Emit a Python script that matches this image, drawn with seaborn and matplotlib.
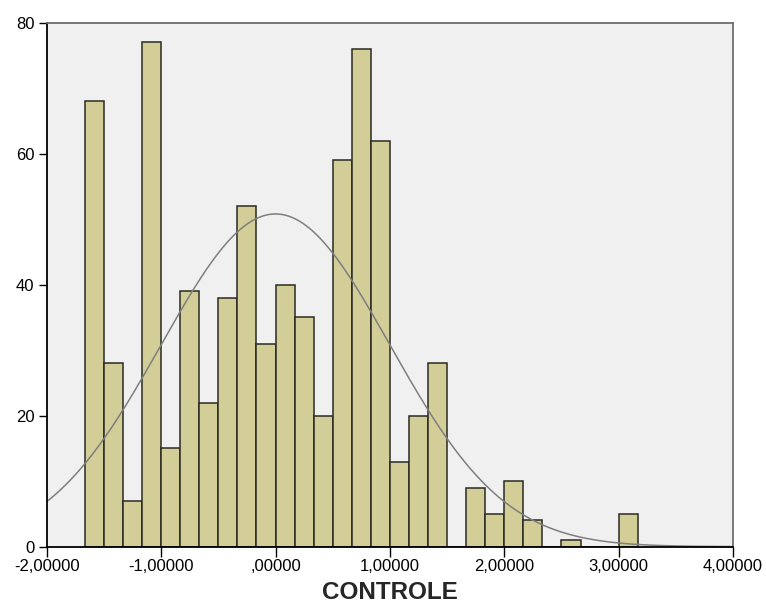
import numpy as np
import pandas as pd

import matplotlib
matplotlib.use('Agg')
import matplotlib.pyplot as plt
from matplotlib.ticker import FuncFormatter
import seaborn as sns

# Histogram of CONTROLE (standardized).
bin_left = -5 / 3
bin_width = 1 / 6
counts = [68, 28, 7, 77, 15, 39, 22, 38, 52, 31,
          40, 35, 20, 59, 76, 62, 13, 20, 28, 0,
          9, 5, 10, 4, 0, 1, 0, 0, 5]
# normal curve parameters (z-scores)
mean_z = 0.0
sd_z = 1.0

x_ticks = [-2, -1, 0, 1, 2, 3, 4]
y_ticks = [0, 20, 40, 60, 80]
x_label = 'CONTROLE'

edges = bin_left + bin_width * np.arange(len(counts) + 1)
centers = (edges[:-1] + edges[1:]) / 2
df = pd.DataFrame({'x': centers, 'n': counts})
n_total = sum(counts)

sns.set_style('white')
plt.rcParams['font.family'] = ['Liberation Sans', 'DejaVu Sans']

fig, ax = plt.subplots(figsize=(7.66, 6.05), dpi=100)
fig.subplots_adjust(left=0.061, right=0.957, top=0.9625, bottom=0.0964)
ax.set_facecolor('#f0f0f0')

sns.histplot(data=df, x='x', weights='n', bins=[float(e) for e in edges], ax=ax,
             color='#d3ce97', alpha=1, edgecolor='#2a2a22', linewidth=1.1)

grid = np.linspace(-2, 4, 400)
curve = n_total * bin_width * np.exp(-0.5 * ((grid - mean_z) / sd_z) ** 2) / (sd_z * np.sqrt(2 * np.pi))
sns.lineplot(x=grid, y=curve, ax=ax, color='#7f7f7f', linewidth=1.1)

ax.set_xlim(-2, 4)
ax.set_ylim(0, 80)
ax.set_xticks(x_ticks)
ax.set_yticks(y_ticks)


def spss_fmt(v, pos):
    s = f'{v:.5f}'.replace('.', ',')
    if s.startswith('0,'):
        s = s[1:]
    return s


ax.xaxis.set_major_formatter(FuncFormatter(spss_fmt))
ax.tick_params(axis='x', direction='out', length=7.5, width=1, pad=1.5,
               labelsize=12, colors='black', bottom=True)
ax.tick_params(axis='y', direction='out', length=5.8, width=1, pad=3,
               labelsize=12, colors='black', left=True)

for side in ['left', 'bottom']:
    ax.spines[side].set_color('black')
    ax.spines[side].set_linewidth(1.3)
for side in ['top', 'right']:
    ax.spines[side].set_color('#6e6e6e')
    ax.spines[side].set_linewidth(1.3)

ax.set_xlabel(x_label, fontsize=17.5, fontweight='bold', labelpad=5)
ax.set_ylabel('')

plt.savefig('out.png', dpi=100)
